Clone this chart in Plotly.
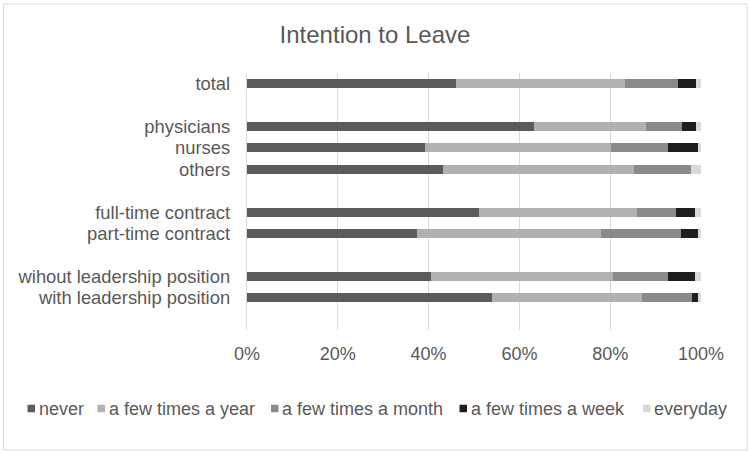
import plotly.graph_objects as go

# rows of the chart, None marks an empty spacer row
rows = ["total", None, "physicians", "nurses", "others", None,
        "full-time contract", "part-time contract", None,
        "wihout leadership position", "with leadership position", None]

categories = [r for r in rows if r is not None]

series_names = ["never", "a few times a year", "a few times a month",
                "a few times a week", "everyday"]

never = [46.0, 63.3, 39.2, 43.2, 51.0, 37.4, 40.5, 53.9]
year = [37.2, 24.5, 40.9, 42.1, 34.8, 40.5, 40.1, 33.0]
month = [11.7, 8.1, 12.6, 12.4, 8.7, 17.6, 12.2, 11.2]
week = [4.0, 3.0, 6.6, 0.0, 4.2, 3.8, 5.9, 1.3]
everyday = [1.1, 1.1, 0.7, 2.3, 1.3, 0.7, 1.3, 0.6]

colors = ["#5b5b5b", "#b1b1b1", "#8a8a8a", "#1e1e1e", "#d9d9d9"]

x_ticks = [0, 20, 40, 60, 80, 100]
x_ticktext = ["0%", "20%", "40%", "60%", "80%", "100%"]

ypos = [rows.index(c) for c in categories]

fig = go.Figure()
for name, vals, col in zip(series_names, [never, year, month, week, everyday], colors):
    fig.add_trace(go.Bar(
        x=vals, y=ypos, name=name, orientation="h",
        marker=dict(color=col, line=dict(width=0)),
        width=0.42, showlegend=False,
    ))

# layout geometry (pixels)
L, R, T, B = 247, 49, 73, 123
W = 750 - L - R
H = 453 - T - B
FONT = "Liberation Sans, Arial, sans-serif"
TXT = "#595959"


def px_x(p):
    return (p - L) / W


def px_y(p):
    return (453 - B - p) / H


# legend drawn as squares + text (left edge of each square in pixels)
legend_left = [27.5, 97.5, 271, 459.5, 643]
legend_cy = 408.5
sq = 7.5
shapes = []
annotations = []
for name, col, lx in zip(series_names, colors, legend_left):
    shapes.append(dict(type="rect", xref="paper", yref="paper",
                       x0=px_x(lx), x1=px_x(lx + sq),
                       y0=px_y(legend_cy + sq / 2), y1=px_y(legend_cy - sq / 2),
                       line=dict(width=0), fillcolor=col))
    annotations.append(dict(text=name, xref="paper", yref="paper",
                            x=px_x(lx + sq + 1.5), y=px_y(legend_cy),
                            xanchor="left", yanchor="middle", showarrow=False,
                            font=dict(family=FONT, size=18, color=TXT)))

# outer chart border
shapes.append(dict(type="rect", xref="paper", yref="paper",
                   x0=px_x(3.5), x1=px_x(747),
                   y0=px_y(450), y1=px_y(4),
                   line=dict(color="#d9d9d9", width=1), fillcolor="rgba(0,0,0,0)",
                   layer="below"))

fig.update_layout(
    width=750, height=453,
    barmode="stack",
    paper_bgcolor="white", plot_bgcolor="white",
    margin=dict(l=L, r=R, t=T, b=B, pad=0),
    font=dict(family=FONT, size=18, color=TXT),
    title=dict(text="Intention to Leave", x=0.5, xanchor="center",
               y=1 - 35 / 453, yanchor="middle", yref="container",
               font=dict(size=24, color=TXT)),
    showlegend=False,
    xaxis=dict(range=[0, 100], tickvals=x_ticks, ticktext=x_ticktext,
               showgrid=True, gridcolor="#d9d9d9", gridwidth=1.3,
               zeroline=False, showline=False, ticks="",
               ticklabelstandoff=11, fixedrange=True),
    yaxis=dict(range=[len(rows) - 0.5, -0.5], tickvals=ypos, ticktext=categories,
               showgrid=False, zeroline=False, showline=True,
               linecolor="#d9d9d9", linewidth=1.3, ticks="",
               ticklabelstandoff=12, tickfont=dict(size=18.4), fixedrange=True),
    shapes=shapes,
    annotations=annotations,
)

fig.write_html("out.html")
